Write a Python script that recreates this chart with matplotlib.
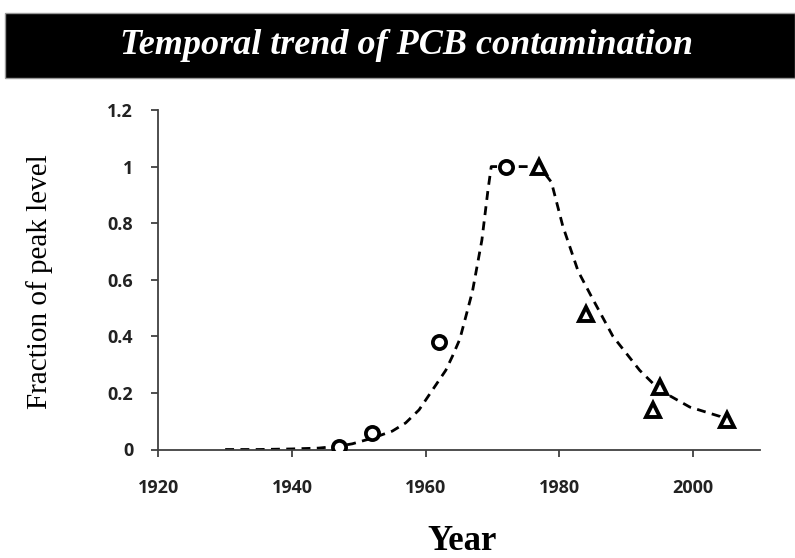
import matplotlib
matplotlib.use("Agg")
import matplotlib.pyplot as plt
from matplotlib.patches import Rectangle

# Data
circle_years = [1947, 1952, 1962, 1972]
circle_values = [0.01, 0.057, 0.38, 1.0]
triangle_years = [1977, 1984, 1994, 1995, 2005]
triangle_values = [1.0, 0.48, 0.138, 0.22, 0.105]

curve_years = [1930, 1935, 1940, 1944, 1947, 1949, 1952, 1955, 1957, 1959, 1961,
               1963, 1964, 1965.1, 1966, 1967, 1968.4, 1969.3, 1969.8, 1972,
               1977, 1978.8, 1980.5, 1982.8, 1984.8, 1988, 1992, 1995, 1999.5,
               2004, 2005]
curve_values = [0.0, 0.0, 0.002, 0.005, 0.012, 0.02, 0.04, 0.065, 0.094, 0.14, 0.21,
                0.28, 0.33, 0.39, 0.47, 0.56, 0.74, 0.915, 1.0, 1.0,
                1.0, 0.945, 0.79, 0.63, 0.54, 0.40, 0.28, 0.21, 0.15,
                0.117, 0.10]

x_ticks = [1920, 1940, 1960, 1980, 2000]
y_ticks = [0, 0.2, 0.4, 0.6, 0.8, 1.0, 1.2]
y_ticklabels = ["0", "0.2", "0.4", "0.6", "0.8", "1", "1.2"]

W, H = 795, 558
fig = plt.figure(figsize=(W / 100, H / 100), dpi=100)

# Title banner
fig.patches.append(Rectangle((5 / W, 1 - 78 / H), 1 - 5 / W, 65 / H,
                             transform=fig.transFigure, facecolor="black",
                             edgecolor="#999999", linewidth=1.0))
fig.text(406 / W, 1 - 46 / H, "Temporal trend of PCB contamination",
         ha="center", va="center", color="white",
         fontfamily="Liberation Serif", fontweight="bold", fontstyle="italic",
         fontsize=26)

ax = fig.add_axes([158.3 / W, 1 - 449.5 / H, (760 - 158.3) / W, (449.5 - 110) / H])

ax.plot(curve_years, curve_values, color="black", linestyle=(0, (3.2, 2.3)),
        linewidth=2.0, zorder=2)
ax.plot(circle_years, circle_values, linestyle="none", marker="o",
        markersize=9.5, markerfacecolor="white", markeredgecolor="black",
        markeredgewidth=2.7, zorder=3)
ax.plot(triangle_years, triangle_values, linestyle="none", marker="^",
        markersize=10.5, markerfacecolor="white", markeredgecolor="black",
        markeredgewidth=2.8, zorder=3)

ax.set_xlim(1920, 2010)
ax.set_ylim(0, 1.2)
ax.set_xticks(x_ticks)
ax.set_yticks(y_ticks)
ax.set_yticklabels(y_ticklabels)

for s in ["top", "right"]:
    ax.spines[s].set_visible(False)
for s in ["left", "bottom"]:
    ax.spines[s].set_color("#404040")
    ax.spines[s].set_linewidth(1.3)

ax.tick_params(axis="both", direction="out", length=5, width=1.3, color="#404040")
ax.tick_params(axis="y", pad=13)
ax.tick_params(axis="x", pad=16)
for lab in ax.get_xticklabels() + ax.get_yticklabels():
    lab.set_fontfamily("Open Sans")
    lab.set_fontweight("bold")
    lab.set_fontsize(13)
    lab.set_color("#222222")

fig.text(40 / W, 1 - 282 / H, "Fraction of peak level", rotation=90,
         ha="center", va="center", fontfamily="Liberation Serif", fontsize=21)
fig.text(462 / W, 1 - 541 / H, "Year", ha="center", va="center",
         fontfamily="Liberation Serif", fontweight="bold", fontsize=25)

fig.savefig("out.png", dpi=100)
